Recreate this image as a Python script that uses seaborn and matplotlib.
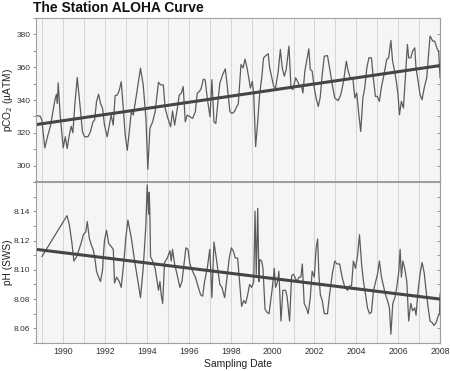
import seaborn as sns
import matplotlib.pyplot as plt
from matplotlib.ticker import MultipleLocator, FixedLocator

# pCO2 at Station ALOHA
pco2_date = [1988.76, 1988.89, 1988.98, 1989.12, 1989.27, 1989.40, 1989.52, 1989.62, 1989.68, 1989.72,
             1989.76, 1989.86, 1990.00, 1990.10, 1990.19, 1990.29, 1990.38, 1990.46, 1990.56, 1990.67,
             1990.80, 1990.92, 1991.02, 1991.18, 1991.30, 1991.42, 1991.50, 1991.59, 1991.69, 1991.78,
             1991.88, 1991.97, 1992.10, 1992.20, 1992.29, 1992.39, 1992.48, 1992.58, 1992.68, 1992.77,
             1992.87, 1992.96, 1993.06, 1993.15, 1993.25, 1993.35, 1993.47, 1993.58, 1993.69, 1993.82,
             1993.95, 1994.04, 1994.14, 1994.27, 1994.39, 1994.55, 1994.65, 1994.78, 1994.87, 1995.00,
             1995.13, 1995.22, 1995.32, 1995.45, 1995.54, 1995.64, 1995.73, 1995.83, 1995.92, 1996.05,
             1996.18, 1996.31, 1996.40, 1996.50, 1996.59, 1996.69, 1996.78, 1996.88, 1997.01, 1997.10,
             1997.20, 1997.29, 1997.39, 1997.48, 1997.61, 1997.74, 1997.83, 1997.96, 1998.06, 1998.18,
             1998.28, 1998.36, 1998.49, 1998.59, 1998.68, 1998.78, 1998.94, 1999.03, 1999.10, 1999.19,
             1999.29, 1999.38, 1999.48, 1999.57, 1999.70, 1999.79, 1999.86, 2000.05, 2000.14, 2000.27,
             2000.37, 2000.46, 2000.56, 2000.65, 2000.78, 2000.88, 2000.97, 2001.10, 2001.19, 2001.29,
             2001.38, 2001.45, 2001.54, 2001.64, 2001.73, 2001.80, 2001.89, 2001.99, 2002.08, 2002.18,
             2002.27, 2002.37, 2002.47, 2002.62, 2002.72, 2002.85, 2002.97, 2003.13, 2003.26, 2003.39,
             2003.52, 2003.61, 2003.71, 2003.83, 2003.93, 2004.02, 2004.12, 2004.21, 2004.31, 2004.40,
             2004.50, 2004.60, 2004.72, 2004.81, 2004.91, 2005.00, 2005.10, 2005.19, 2005.32, 2005.45,
             2005.54, 2005.65, 2005.73, 2005.83, 2005.93, 2005.99, 2006.06, 2006.15, 2006.25, 2006.34,
             2006.44, 2006.50, 2006.60, 2006.69, 2006.79, 2006.85, 2006.95, 2007.04, 2007.14, 2007.24,
             2007.36, 2007.46, 2007.52, 2007.65, 2007.74, 2007.87, 2007.93, 2008.00]
pco2_val = [330.4, 330.2, 327.8, 310.8, 318.6, 324.7, 333.9, 341.0, 343.5, 338.0,
            350.5, 330.0, 310.8, 317.6, 310.4, 318.6, 324.0, 320.0, 338.0, 353.7,
            337.0, 320.6, 317.6, 317.6, 320.6, 326.7, 327.8, 339.0, 343.5, 338.0,
            334.9, 324.7, 317.6, 324.7, 330.8, 324.7, 342.7, 343.0, 346.0, 351.2,
            334.9, 318.6, 309.4, 320.0, 332.9, 330.8, 341.0, 350.0, 359.4, 349.2,
            328.8, 297.8, 322.7, 326.7, 332.9, 350.8, 349.2, 349.2, 334.9, 328.8,
            323.7, 333.3, 324.7, 334.9, 343.0, 344.1, 348.2, 326.7, 330.8, 329.8,
            328.8, 332.9, 344.1, 345.1, 347.1, 352.7, 352.2, 341.0, 329.8, 352.4,
            326.7, 325.7, 339.0, 350.2, 355.3, 359.0, 349.2, 332.9, 331.8, 332.9,
            335.9, 337.5, 361.6, 359.6, 364.9, 359.6, 347.3, 351.4, 343.3, 311.6,
            326.9, 343.3, 353.5, 365.7, 367.3, 368.2, 359.6, 348.4, 347.3, 357.6,
            370.8, 359.6, 354.5, 358.6, 372.9, 347.3, 346.3, 353.5, 351.4, 348.4,
            348.4, 344.3, 357.6, 364.7, 371.2, 358.6, 357.6, 347.3, 341.2, 336.1,
            341.2, 355.5, 366.7, 367.1, 359.6, 349.4, 341.2, 339.6, 343.3, 351.4,
            363.7, 357.6, 353.5, 353.5, 341.2, 344.3, 331.0, 320.8, 341.2, 347.3,
            359.6, 365.7, 365.7, 353.5, 342.2, 342.2, 339.2, 347.3, 355.5, 364.7,
            365.7, 376.3, 363.7, 357.6, 349.4, 343.3, 331.0, 339.2, 335.1, 353.5,
            373.9, 365.7, 365.7, 369.8, 371.8, 359.6, 351.4, 343.3, 340.2, 347.3,
            353.5, 369.8, 379.0, 375.9, 375.9, 370.8, 369.8, 353.5]

# seawater pH (SWS scale)
ph_date = [1988.98, 1990.18, 1990.29, 1990.41, 1990.51, 1990.64, 1990.76, 1990.89, 1990.96, 1991.08,
           1991.15, 1991.24, 1991.34, 1991.43, 1991.53, 1991.59, 1991.69, 1991.78, 1991.88, 1991.91,
           1991.97, 1992.07, 1992.17, 1992.29, 1992.39, 1992.45, 1992.55, 1992.68, 1992.77, 1992.90,
           1992.99, 1993.09, 1993.25, 1993.41, 1993.57, 1993.69, 1993.82, 1993.95, 1994.01, 1994.08,
           1994.11, 1994.14, 1994.17, 1994.27, 1994.39, 1994.55, 1994.62, 1994.68, 1994.75, 1994.84,
           1994.97, 1995.10, 1995.16, 1995.22, 1995.32, 1995.45, 1995.57, 1995.67, 1995.86, 1995.96,
           1996.05, 1996.18, 1996.31, 1996.56, 1996.66, 1996.75, 1996.88, 1997.00, 1997.10, 1997.20,
           1997.29, 1997.48, 1997.58, 1997.71, 1997.93, 1998.03, 1998.12, 1998.22, 1998.33, 1998.52,
           1998.62, 1998.71, 1998.81, 1998.90, 1999.00, 1999.10, 1999.16, 1999.22, 1999.29, 1999.35,
           1999.38, 1999.48, 1999.54, 1999.64, 1999.73, 1999.83, 1999.99, 2000.08, 2000.14, 2000.24,
           2000.30, 2000.40, 2000.49, 2000.62, 2000.69, 2000.81, 2000.91, 2001.00, 2001.16, 2001.26,
           2001.35, 2001.42, 2001.51, 2001.61, 2001.70, 2001.80, 2001.89, 2001.99, 2002.08, 2002.15,
           2002.21, 2002.28, 2002.37, 2002.47, 2002.62, 2002.72, 2002.85, 2002.97, 2003.07, 2003.20,
           2003.32, 2003.45, 2003.58, 2003.67, 2003.77, 2003.86, 2003.96, 2004.06, 2004.15, 2004.25,
           2004.34, 2004.44, 2004.53, 2004.63, 2004.72, 2004.82, 2005.01, 2005.10, 2005.20, 2005.39,
           2005.49, 2005.58, 2005.65, 2005.74, 2005.84, 2005.93, 2006.03, 2006.09, 2006.15, 2006.22,
           2006.31, 2006.41, 2006.50, 2006.60, 2006.69, 2006.79, 2006.85, 2006.95, 2007.04, 2007.14,
           2007.24, 2007.33, 2007.43, 2007.52, 2007.62, 2007.71, 2007.81, 2007.90, 2007.97, 2008.00]
ph_val = [8.109, 8.137, 8.131, 8.119, 8.106, 8.109, 8.114, 8.120, 8.124, 8.126,
          8.133, 8.122, 8.117, 8.114, 8.106, 8.099, 8.095, 8.092, 8.100, 8.108,
          8.120, 8.127, 8.118, 8.116, 8.114, 8.091, 8.095, 8.092, 8.088, 8.106,
          8.122, 8.134, 8.122, 8.106, 8.092, 8.081, 8.101, 8.131, 8.158, 8.138,
          8.153, 8.137, 8.109, 8.106, 8.101, 8.086, 8.092, 8.083, 8.077, 8.105,
          8.108, 8.113, 8.106, 8.114, 8.104, 8.096, 8.088, 8.092, 8.115, 8.114,
          8.104, 8.099, 8.095, 8.083, 8.082, 8.092, 8.101, 8.114, 8.081, 8.119,
          8.110, 8.090, 8.088, 8.081, 8.108, 8.115, 8.113, 8.108, 8.108, 8.075,
          8.079, 8.077, 8.083, 8.090, 8.088, 8.092, 8.140, 8.097, 8.142, 8.092,
          8.107, 8.106, 8.101, 8.073, 8.071, 8.070, 8.088, 8.101, 8.088, 8.092,
          8.099, 8.065, 8.086, 8.086, 8.082, 8.065, 8.096, 8.097, 8.092, 8.095,
          8.095, 8.104, 8.077, 8.074, 8.070, 8.081, 8.099, 8.095, 8.115, 8.121,
          8.097, 8.083, 8.079, 8.070, 8.070, 8.083, 8.097, 8.106, 8.104, 8.104,
          8.095, 8.088, 8.086, 8.089, 8.089, 8.106, 8.101, 8.110, 8.124, 8.104,
          8.092, 8.083, 8.074, 8.070, 8.071, 8.086, 8.097, 8.106, 8.095, 8.083,
          8.079, 8.074, 8.056, 8.077, 8.081, 8.088, 8.099, 8.114, 8.095, 8.106,
          8.101, 8.092, 8.065, 8.077, 8.072, 8.074, 8.069, 8.086, 8.097, 8.105,
          8.098, 8.086, 8.074, 8.065, 8.064, 8.062, 8.064, 8.068, 8.070, 8.084]

# linear trend lines as drawn in the reference (values at the plot edges)
trend_date = [1988.7, 2008.0]
pco2_trend = [325.0, 361.0]
ph_trend = [8.114, 8.080]

year_ticks = list(range(1990, 2009, 2))
pco2_ticks = [300, 320, 340, 360, 380]
ph_ticks = [8.06, 8.08, 8.10, 8.12, 8.14]

sns.set_style('whitegrid', {'axes.facecolor': '#f5f5f5', 'grid.color': '#d4d4d4',
                            'axes.edgecolor': '#a0a0a0'})
plt.rcParams['font.family'] = ['Liberation Sans', 'DejaVu Sans']

fig = plt.figure(figsize=(4.5, 3.71), dpi=100)
ax1 = fig.add_axes([0.08, 0.5094, 0.898, 0.4421])
ax2 = fig.add_axes([0.08, 0.0755, 0.898, 0.4339])

panels = [(ax1, pco2_date, pco2_val, pco2_trend, (290, 390), pco2_ticks, 10, 'pCO$_2$ (µATM)'),
          (ax2, ph_date, ph_val, ph_trend, (8.05, 8.16), ph_ticks, 0.01, 'pH (SWS)')]

for ax, xs, ys, tr, ylim, yt, minor, label in panels:
    sns.lineplot(x=xs, y=ys, ax=ax, color='#5c5c5c', linewidth=0.9, errorbar=None)
    sns.lineplot(x=trend_date, y=tr, ax=ax, color='#454545', linewidth=2.2, errorbar=None)
    ax.set_xlim(1988.7, 2008.0)
    ax.set_ylim(*ylim)
    ax.xaxis.set_major_locator(FixedLocator(year_ticks))
    ax.xaxis.set_minor_locator(MultipleLocator(1))
    ax.yaxis.set_major_locator(FixedLocator(yt))
    ax.yaxis.set_minor_locator(MultipleLocator(minor))
    ax.xaxis.grid(True, which='both', color='#d4d4d4', linewidth=0.7)
    ax.yaxis.grid(False)
    ax.tick_params(axis='x', which='both', length=0, labelsize=6.3, colors='#333333', pad=3)
    ax.tick_params(axis='y', which='both', left=True, length=2.5, width=0.6, direction='out',
                   color='#888888', labelsize=6, labelcolor='#333333', pad=1.5)
    sec = ax.secondary_yaxis('right')
    sec.yaxis.set_major_locator(MultipleLocator(minor))
    sec.tick_params(direction='in', length=2.5, width=0.6, color='#888888', labelright=False)
    sec.spines['right'].set_color('#a0a0a0')
    ax.set_ylabel(label, fontsize=7.3, color='#222222', labelpad=1)
    ax.set_xlabel('')
    for s in ax.spines.values():
        s.set_linewidth(0.8)

ax1.tick_params(axis='x', labelbottom=False)
ax1.spines['bottom'].set_linewidth(1.4)
ax1.spines['bottom'].set_color('#9a9a9a')
ax2.set_xlabel('Sampling Date', fontsize=7.5, color='#222222', labelpad=2)

fig.text(0.073, 0.997, 'The Station ALOHA Curve', fontsize=10, fontweight='bold',
         va='top', ha='left', color='#111111')

fig.savefig('out.png', dpi=100)
